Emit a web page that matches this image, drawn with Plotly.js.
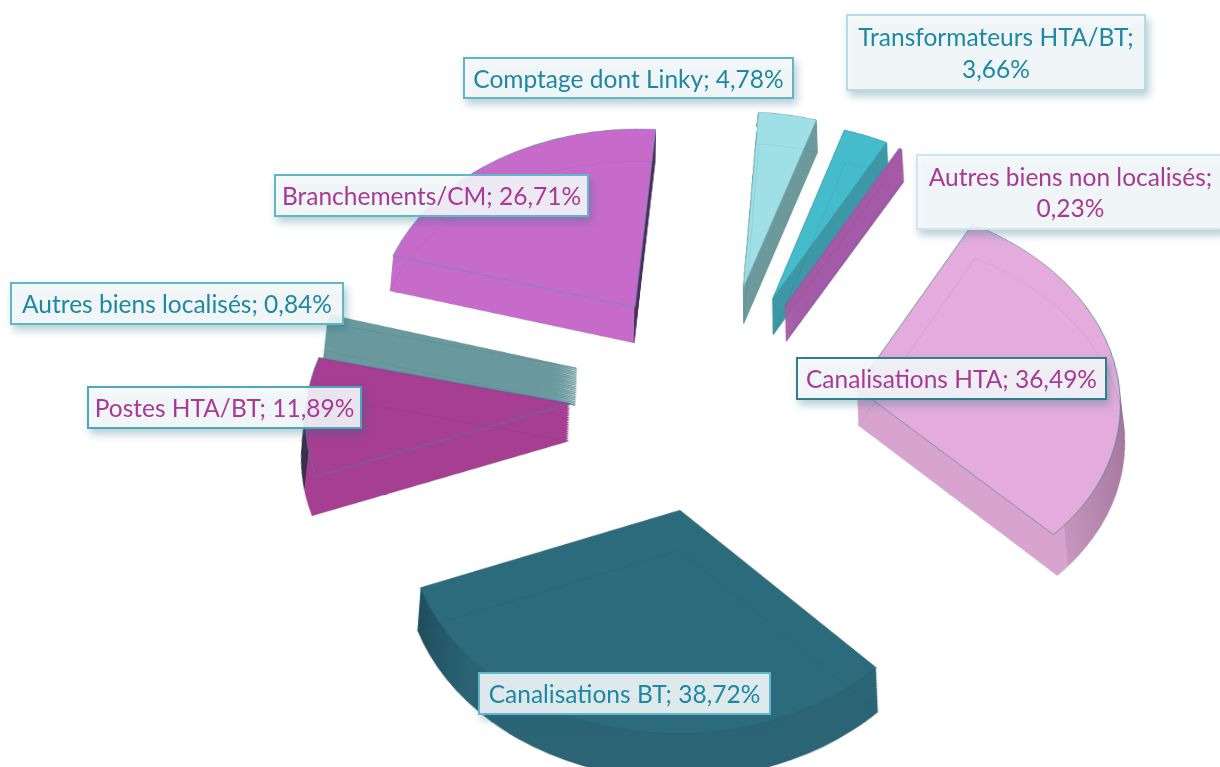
<!DOCTYPE html>
<html>
<head>
<meta charset="utf-8">
<script src="https://cdn.plot.ly/plotly-3.0.1.min.js"></script>
<style>
html,body{margin:0;padding:0;background:#fff;overflow:hidden}
#chart{width:1220px;height:767px;filter:blur(0.5px)}
.main-svg{overflow:visible !important}
.annotation-text-g rect.bg{filter:drop-shadow(3px 5px 4px rgba(40,110,130,.38))}
</style>
</head>
<body>
<div id="chart"></div>
<script>
// Data, clockwise from the top
const categories = ["Comptage dont Linky","Transformateurs HTA/BT","Autres biens non localisés","Canalisations HTA","Canalisations BT","Postes HTA/BT","Autres biens localisés","Branchements/CM"];
const values = [4.78,3.66,0.23,36.49,38.72,11.89,0.84,26.71];
// Styles
const topColors = ["#9FE0E6","#44BCCB","#A55BA8","#E3ACDC","#2C6B7C","#A63E92","#6A9A9E","#C76BCB"];
const wallColors = ["#6E9A9C","#3E98A6","#A55BA8","#D8A4CF","#2A6475","#A63E92","#6A9A9E","#C76BCB"];
const edgeColors = ["#6FA9B4","#3E98A6","#8A5CA8","#4E8296","#275F70","#4E7FA0","#5D8C92","#5C8FBE"];
const pulls = [0.62,0.585,0.58,0.55,0.56,0.55,0.545,0.525];
const sliceNudgeX = [1,1,1,1,0,3,2,0];
const sliceNudgeY = [8,5,6,4,0,-3,-4,-11];
// Wall shading, left to right across each slice: [position, colour]
const wallShades = {
  3: [[0,"#D8A4CF"],[0.74,"#D8A4CF"],[0.74,"#C696BE"],[1,"#A6789E"]],
  4: [[0,"#1F4E5E"],[0.12,"#2A6475"],[1,"#2A6475"]],
  5: [[0,"#3A2F4C"],[0.03,"#3A2F4C"],[0.03,"#A63E92"],[1,"#A63E92"]],
  7: [[0,"#C76BCB"],[0.93,"#C76BCB"],[0.93,"#4A2F5A"],[1,"#4A2F5A"]]
};
// Label boxes: left, top, right, bottom (pixels), text colour, border colour, line break
const labelBoxes = [
 [464,58,793,98,"#1E88A4","#62B6CA",false],
 [847,15,1145,90,"#1E88A4","#B5DCE6",true],
 [917,155,1224,229,"#A83A96","#CFE6EC",true],
 [797,358,1106,399,"#A83A96","#327F8C",false],
 [479,673,770,714,"#1E88A4","#62B6CA",false],
 [88,387,361,428,"#A83A96","#4FA6BA",false],
 [11,283,343,324,"#1E88A4","#62B6CA",false],
 [275,175,588,216,"#A83A96","#62B6CA",false]
];
const W = 1220, H = 767;
const half = 360, cx0 = 610, cy0 = 360, layers = 30, step = 1.4;
const maxPull = Math.max(...pulls);
const r0 = half / (1 + maxPull);
const sx = 286 / r0, sy = 248 / r0;

function pieTrace(offset, colors, lineColor, lineWidth) {
  const cy = cy0 + offset;
  return {
    type: "pie", labels: categories, values: values, sort: false,
    direction: "clockwise", rotation: 4, pull: pulls,
    textinfo: "none", showlegend: false, hoverinfo: "label+value",
    marker: {colors: colors, line: {color: lineColor, width: lineWidth}},
    domain: {x: [(cx0 - half) / W, (cx0 + half) / W], y: [1 - (cy + half) / H, 1 - (cy - half) / H]}
  };
}
const traces = [];
for (let i = layers; i >= 1; i--) {
  traces.push(pieTrace(i * step, wallColors, i === layers ? edgeColors : wallColors, i === layers ? 0.7 : 0.9));
}
traces.push(pieTrace(0, topColors, edgeColors, 0.7));
// Faint outline of the far face, seen through the top of each slice
traces.push(pieTrace(layers * step, categories.map(() => "rgba(0,0,0,0)"), "rgba(30,60,80,0.13)", 0.7));

const annotations = categories.map((c, i) => {
  const b = labelBoxes[i];
  const pct = values[i].toFixed(2).replace(".", ",") + "%";
  return {
    xref: "paper", yref: "paper", showarrow: false,
    x: (b[0] + b[2]) / 2 / W, y: 1 - (b[1] + b[3]) / 2 / H,
    xanchor: "center", yanchor: "middle",
    width: b[2] - b[0] - 2, height: b[3] - b[1] - 2,
    text: c + ";" + (b[6] ? "<br>" : " ") + pct,
    font: {family: "Lato, 'Open Sans', sans-serif", size: 24.5, color: b[4]},
    bgcolor: "rgba(248,251,252,0.88)", bordercolor: b[5], borderwidth: 2, borderpad: 0,
    align: "center"
  };
});

Plotly.newPlot("chart", traces, {
  width: W, height: H, margin: {l: 0, r: 0, t: 0, b: 0},
  paper_bgcolor: "rgba(0,0,0,0)", plot_bgcolor: "rgba(0,0,0,0)", annotations: annotations, showlegend: false
}, {displayModeBar: false, staticPlot: true}).then(gd => {
  const tx = 712.8 - cx0 * sx, ty = 352 - cy0 * sy;
  const pie = gd.querySelector(".pielayer");
  const svg = pie.closest("svg");
  pie.setAttribute("transform", `translate(${tx},${ty}) scale(${sx},${sy})`);

  const NS = "http://www.w3.org/2000/svg";
  const defs = document.createElementNS(NS, "defs");
  Object.keys(wallShades).forEach(k => {
    const g = document.createElementNS(NS, "linearGradient");
    g.setAttribute("id", "wall" + k);
    wallShades[k].forEach(([o, c]) => {
      const st = document.createElementNS(NS, "stop");
      st.setAttribute("offset", o);
      st.setAttribute("stop-color", c);
      g.appendChild(st);
    });
    defs.appendChild(g);
  });
  svg.appendChild(defs);

  const ts = pie.querySelectorAll(".trace");
  ts.forEach((t, n) => {
    t.querySelectorAll(".slice").forEach((s, i) => {
      s.setAttribute("transform", `translate(${sliceNudgeX[i] / sx},${sliceNudgeY[i] / sy})`);
      if (n < layers && wallShades[i]) {
        const p = s.querySelector("path.surface");
        p.style.fill = `url(#wall${i})`;
        p.style.stroke = "none";
      }
    });
  });
  svg.style.transformOrigin = "708px 700px";
  svg.style.transform = "perspective(1400px) rotateX(20deg)";
});
</script>
</body>
</html>
